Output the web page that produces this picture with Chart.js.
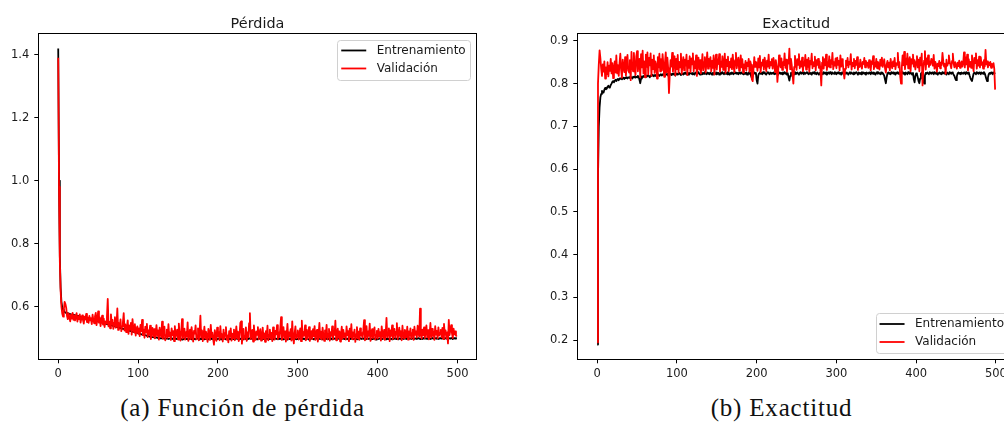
<!DOCTYPE html>
<html>
<head>
<meta charset="utf-8">
<script src="https://cdn.jsdelivr.net/npm/chart.js@4.4.1/dist/chart.umd.min.js"></script>
<style>
html,body{margin:0;padding:0;background:#fff;overflow:hidden;width:1004px;height:425px;}
.wrap{position:absolute;top:0;}
canvas{display:block;}
.cap{position:absolute;top:394px;font-family:'Liberation Serif',serif;font-size:25px;letter-spacing:0.8px;color:#111;white-space:nowrap;transform:translateX(-50%);}
</style>
</head>
<body>
<div class="wrap" style="left:0;width:500px;height:380px"><canvas id="c1" width="500" height="380"></canvas></div>
<div class="wrap" style="left:500px;width:540px;height:380px"><canvas id="c2" width="540" height="380"></canvas></div>
<div class="cap" style="left:242.5px">(a) Función de pérdida</div>
<div class="cap" style="left:781.5px">(b) Exactitud</div>
<script>
// ---- categories: epoch ----
const epochs = [
0,1,2,3,4,5,6,7,8,9,10,11,12,13,14,15,16,17,18,19,
20,21,22,23,24,25,26,27,28,29,30,31,32,33,34,35,36,37,38,39,
40,41,42,43,44,45,46,47,48,49,50,51,52,53,54,55,56,57,58,59,
60,61,62,63,64,65,66,67,68,69,70,71,72,73,74,75,76,77,78,79,
80,81,82,83,84,85,86,87,88,89,90,91,92,93,94,95,96,97,98,99,
100,101,102,103,104,105,106,107,108,109,110,111,112,113,114,115,116,117,118,119,
120,121,122,123,124,125,126,127,128,129,130,131,132,133,134,135,136,137,138,139,
140,141,142,143,144,145,146,147,148,149,150,151,152,153,154,155,156,157,158,159,
160,161,162,163,164,165,166,167,168,169,170,171,172,173,174,175,176,177,178,179,
180,181,182,183,184,185,186,187,188,189,190,191,192,193,194,195,196,197,198,199,
200,201,202,203,204,205,206,207,208,209,210,211,212,213,214,215,216,217,218,219,
220,221,222,223,224,225,226,227,228,229,230,231,232,233,234,235,236,237,238,239,
240,241,242,243,244,245,246,247,248,249,250,251,252,253,254,255,256,257,258,259,
260,261,262,263,264,265,266,267,268,269,270,271,272,273,274,275,276,277,278,279,
280,281,282,283,284,285,286,287,288,289,290,291,292,293,294,295,296,297,298,299,
300,301,302,303,304,305,306,307,308,309,310,311,312,313,314,315,316,317,318,319,
320,321,322,323,324,325,326,327,328,329,330,331,332,333,334,335,336,337,338,339,
340,341,342,343,344,345,346,347,348,349,350,351,352,353,354,355,356,357,358,359,
360,361,362,363,364,365,366,367,368,369,370,371,372,373,374,375,376,377,378,379,
380,381,382,383,384,385,386,387,388,389,390,391,392,393,394,395,396,397,398,399,
400,401,402,403,404,405,406,407,408,409,410,411,412,413,414,415,416,417,418,419,
420,421,422,423,424,425,426,427,428,429,430,431,432,433,434,435,436,437,438,439,
440,441,442,443,444,445,446,447,448,449,450,451,452,453,454,455,456,457,458,459,
460,461,462,463,464,465,466,467,468,469,470,471,472,473,474,475,476,477,478,479,
480,481,482,483,484,485,486,487,488,489,490,491,492,493,494,495,496,497,498,499
];

// ---- series: loss ----
const trainLoss = [
1.420,1.000,0.760,0.660,0.615,0.598,0.590,0.586,0.583,0.581,0.580,0.579,0.578,0.578,0.577,0.576,0.575,0.575,0.574,0.574,
0.573,0.572,0.572,0.571,0.570,0.570,0.569,0.568,0.568,0.567,0.566,0.566,0.565,0.564,0.564,0.563,0.562,0.562,0.561,0.560,
0.560,0.559,0.558,0.558,0.557,0.556,0.556,0.555,0.554,0.553,0.553,0.552,0.551,0.550,0.550,0.549,0.548,0.547,0.547,0.546,
0.545,0.544,0.544,0.543,0.542,0.541,0.541,0.540,0.539,0.538,0.538,0.537,0.536,0.535,0.535,0.534,0.533,0.532,0.532,0.531,
0.530,0.529,0.529,0.528,0.527,0.526,0.526,0.525,0.524,0.523,0.523,0.522,0.521,0.520,0.520,0.519,0.518,0.517,0.517,0.516,
0.515,0.514,0.514,0.513,0.512,0.511,0.511,0.510,0.509,0.509,0.508,0.507,0.507,0.506,0.505,0.505,0.504,0.504,0.503,0.503,
0.502,0.502,0.501,0.502,0.501,0.500,0.501,0.500,0.499,0.500,0.499,0.500,0.499,0.498,0.499,0.498,0.499,0.498,0.497,0.498,
0.498,0.497,0.499,0.498,0.496,0.498,0.497,0.499,0.497,0.498,0.496,0.497,0.499,0.498,0.497,0.495,0.498,0.497,0.499,0.498,
0.497,0.498,0.496,0.499,0.497,0.498,0.497,0.496,0.498,0.499,0.497,0.498,0.496,0.497,0.499,0.498,0.497,0.495,0.498,0.497,
0.499,0.497,0.498,0.496,0.498,0.497,0.499,0.498,0.496,0.497,0.498,0.499,0.497,0.498,0.496,0.498,0.499,0.497,0.494,0.498,
0.497,0.498,0.499,0.497,0.496,0.498,0.497,0.499,0.498,0.497,0.496,0.498,0.497,0.499,0.498,0.496,0.497,0.499,0.498,0.497,
0.498,0.496,0.497,0.499,0.498,0.497,0.495,0.498,0.497,0.499,0.498,0.497,0.496,0.498,0.499,0.497,0.498,0.496,0.497,0.499,
0.498,0.497,0.499,0.498,0.496,0.497,0.498,0.499,0.497,0.496,0.498,0.497,0.499,0.498,0.497,0.495,0.498,0.497,0.499,0.498,
0.497,0.499,0.498,0.496,0.498,0.497,0.499,0.497,0.498,0.496,0.497,0.499,0.498,0.497,0.498,0.496,0.499,0.497,0.498,0.497,
0.499,0.498,0.496,0.497,0.499,0.498,0.497,0.495,0.498,0.497,0.499,0.498,0.496,0.497,0.498,0.499,0.497,0.498,0.496,0.498,
0.497,0.499,0.498,0.497,0.496,0.498,0.499,0.497,0.498,0.496,0.497,0.499,0.498,0.497,0.495,0.498,0.497,0.499,0.498,0.497,
0.496,0.498,0.497,0.499,0.498,0.497,0.496,0.498,0.499,0.497,0.498,0.496,0.497,0.499,0.498,0.497,0.498,0.496,0.499,0.497,
0.498,0.497,0.499,0.496,0.498,0.497,0.499,0.498,0.497,0.495,0.498,0.499,0.497,0.498,0.496,0.497,0.499,0.498,0.497,0.498,
0.499,0.497,0.498,0.496,0.499,0.498,0.497,0.499,0.498,0.496,0.497,0.498,0.499,0.497,0.498,0.496,0.498,0.497,0.499,0.498,
0.497,0.498,0.499,0.497,0.498,0.496,0.497,0.499,0.498,0.497,0.499,0.498,0.496,0.498,0.497,0.499,0.498,0.497,0.495,0.498,
0.498,0.497,0.499,0.498,0.496,0.498,0.497,0.499,0.498,0.497,0.498,0.496,0.499,0.497,0.498,0.499,0.497,0.498,0.496,0.498,
0.497,0.499,0.498,0.497,0.499,0.498,0.496,0.498,0.499,0.497,0.498,0.499,0.497,0.498,0.500,0.498,0.497,0.499,0.498,0.497,
0.499,0.498,0.497,0.499,0.498,0.500,0.497,0.498,0.499,0.497,0.498,0.500,0.499,0.497,0.498,0.499,0.497,0.500,0.498,0.499,
0.498,0.499,0.497,0.500,0.498,0.499,0.497,0.498,0.500,0.499,0.498,0.497,0.499,0.500,0.498,0.499,0.497,0.498,0.500,0.499,
0.498,0.500,0.499,0.497,0.499,0.500,0.498,0.499,0.497,0.500,0.499,0.498,0.500,0.499,0.497,0.499,0.500,0.498,0.500,0.501
];
const valLoss = [
1.390,0.980,0.745,0.650,0.600,0.578,0.568,0.590,0.615,0.608,0.596,0.570,0.560,0.578,0.566,0.553,0.574,0.562,0.580,0.558,
0.571,0.556,0.566,0.579,0.552,0.569,0.560,0.575,0.549,0.563,0.572,0.557,0.546,0.568,0.559,0.577,0.551,0.565,0.548,0.570,
0.556,0.563,0.544,0.574,0.558,0.547,0.569,0.580,0.541,0.560,0.585,0.549,0.566,0.538,0.557,0.571,0.543,0.562,0.535,0.553,
0.546,0.568,0.624,0.537,0.552,0.531,0.575,0.544,0.558,0.529,0.549,0.566,0.533,0.541,0.594,0.526,0.547,0.537,0.559,0.522,
0.538,0.551,0.579,0.524,0.543,0.519,0.535,0.556,0.513,0.540,0.527,0.548,0.511,0.560,0.532,0.518,0.544,0.508,0.529,0.537,
0.514,0.531,0.506,0.542,0.522,0.558,0.509,0.527,0.501,0.536,0.518,0.545,0.503,0.524,0.511,0.539,0.497,0.520,0.532,0.505,
0.528,0.499,0.515,0.541,0.507,0.524,0.495,0.533,0.512,0.503,0.552,0.498,0.519,0.536,0.493,0.510,0.527,0.501,0.544,0.506,
0.517,0.494,0.531,0.509,0.522,0.490,0.538,0.503,0.515,0.527,0.496,0.546,0.508,0.492,0.521,0.560,0.499,0.513,0.530,0.495,
0.519,0.505,0.550,0.491,0.512,0.527,0.497,0.535,0.508,0.489,0.523,0.514,0.540,0.496,0.509,0.531,0.493,0.518,0.571,0.502,
0.524,0.490,0.511,0.536,0.498,0.520,0.507,0.488,0.529,0.515,0.494,0.542,0.503,0.517,0.496,0.479,0.525,0.510,0.491,0.533,
0.506,0.519,0.493,0.538,0.502,0.512,0.489,0.527,0.498,0.516,0.535,0.495,0.508,0.486,0.522,0.504,0.531,0.492,0.514,0.500,
0.527,0.493,0.511,0.537,0.499,0.520,0.490,0.509,0.548,0.553,0.482,0.515,0.529,0.496,0.507,0.534,0.491,0.518,0.503,0.547,
0.579,0.497,0.512,0.526,0.489,0.540,0.505,0.494,0.521,0.510,0.535,0.496,0.517,0.528,0.492,0.506,0.533,0.499,0.515,0.488,
0.522,0.504,0.539,0.493,0.511,0.527,0.498,0.516,0.490,0.534,0.508,0.495,0.523,0.512,0.541,0.497,0.519,0.503,0.530,0.566,
0.494,0.514,0.535,0.500,0.521,0.489,0.509,0.545,0.496,0.518,0.506,0.528,0.492,0.553,0.503,0.483,0.516,0.537,0.499,0.511,
0.524,0.495,0.513,0.531,0.490,0.555,0.502,0.519,0.508,0.540,0.493,0.527,0.498,0.515,0.535,0.491,0.510,0.522,0.497,0.528,
0.506,0.538,0.494,0.517,0.526,0.489,0.512,0.548,0.500,0.520,0.495,0.533,0.509,0.491,0.524,0.503,0.542,0.497,0.514,0.529,
0.492,0.519,0.507,0.537,0.496,0.524,0.510,0.555,0.493,0.516,0.530,0.501,0.521,0.489,0.511,0.536,0.498,0.526,0.504,0.515,
0.495,0.537,0.509,0.522,0.490,0.530,0.503,0.544,0.497,0.518,0.506,0.527,0.488,0.512,0.535,0.499,0.520,0.494,0.531,0.508,
0.516,0.501,0.525,0.557,0.493,0.512,0.538,0.497,0.521,0.507,0.546,0.491,0.515,0.528,0.500,0.519,0.534,0.495,0.511,0.523,
0.498,0.529,0.506,0.519,0.492,0.537,0.510,0.500,0.526,0.494,0.513,0.564,0.502,0.518,0.531,0.490,0.524,0.507,0.540,0.497,
0.515,0.529,0.501,0.520,0.547,0.496,0.512,0.533,0.505,0.522,0.493,0.539,0.510,0.499,0.526,0.517,0.503,0.536,0.495,0.521,
0.508,0.531,0.498,0.516,0.527,0.494,0.536,0.510,0.521,0.502,0.539,0.515,0.505,0.593,0.512,0.498,0.527,0.509,0.534,0.500,
0.518,0.540,0.503,0.525,0.496,0.512,0.548,0.501,0.529,0.507,0.520,0.494,0.538,0.511,0.523,0.499,0.534,0.508,0.517,0.526,
0.503,0.532,0.497,0.545,0.511,0.524,0.499,0.518,0.483,0.558,0.509,0.527,0.541,0.515,0.500,0.530,0.512,0.521,0.508,0.505
];

// ---- series: accuracy ----
const trainAcc = [
0.190,0.580,0.700,0.745,0.768,0.776,0.783,0.781,0.779,0.786,0.790,0.787,0.788,0.793,0.795,0.791,0.792,0.797,0.800,0.804,
0.806,0.803,0.807,0.809,0.806,0.810,0.811,0.808,0.812,0.811,0.813,0.810,0.812,0.814,0.811,0.814,0.813,0.815,0.812,0.814,
0.815,0.813,0.816,0.814,0.812,0.816,0.815,0.817,0.814,0.816,0.815,0.818,0.816,0.809,0.801,0.812,0.817,0.815,0.818,0.816,
0.817,0.819,0.816,0.818,0.820,0.817,0.815,0.819,0.818,0.821,0.819,0.817,0.820,0.818,0.821,0.819,0.822,0.820,0.818,0.821,
0.822,0.819,0.821,0.823,0.820,0.818,0.822,0.821,0.823,0.819,0.821,0.824,0.822,0.820,0.823,0.821,0.824,0.822,0.819,0.823,
0.824,0.821,0.823,0.825,0.822,0.820,0.824,0.823,0.821,0.825,0.823,0.826,0.822,0.824,0.821,0.825,0.823,0.826,0.824,0.822,
0.825,0.823,0.821,0.826,0.824,0.822,0.825,0.827,0.823,0.821,0.824,0.826,0.822,0.825,0.823,0.827,0.824,0.822,0.826,0.823,
0.825,0.822,0.826,0.824,0.821,0.825,0.823,0.827,0.824,0.822,0.826,0.823,0.825,0.821,0.824,0.826,0.823,0.827,0.824,0.822,
0.826,0.823,0.825,0.822,0.827,0.824,0.821,0.825,0.823,0.826,0.824,0.822,0.827,0.824,0.826,0.823,0.825,0.822,0.826,0.824,
0.823,0.826,0.824,0.822,0.827,0.825,0.823,0.826,0.821,0.824,0.826,0.823,0.825,0.818,0.812,0.820,0.824,0.826,0.823,0.825,
0.808,0.800,0.819,0.824,0.826,0.823,0.825,0.822,0.827,0.824,0.826,0.823,0.821,0.825,0.827,0.824,0.822,0.826,0.823,0.825,
0.824,0.826,0.822,0.825,0.823,0.827,0.824,0.821,0.825,0.826,0.823,0.825,0.822,0.826,0.824,0.827,0.823,0.825,0.821,0.824,
0.815,0.807,0.818,0.825,0.823,0.826,0.824,0.822,0.827,0.825,0.823,0.826,0.824,0.821,0.825,0.827,0.823,0.826,0.824,0.822,
0.826,0.823,0.825,0.827,0.824,0.822,0.826,0.823,0.825,0.821,0.826,0.824,0.827,0.823,0.825,0.822,0.826,0.824,0.821,0.825,
0.823,0.826,0.824,0.822,0.827,0.825,0.823,0.826,0.821,0.824,0.826,0.823,0.827,0.825,0.822,0.826,0.824,0.823,0.827,0.825,
0.822,0.826,0.824,0.827,0.823,0.825,0.821,0.826,0.824,0.822,0.827,0.825,0.823,0.826,0.824,0.821,0.825,0.827,0.823,0.826,
0.824,0.822,0.826,0.823,0.825,0.827,0.824,0.821,0.826,0.823,0.825,0.822,0.827,0.824,0.826,0.823,0.825,0.821,0.826,0.824,
0.823,0.826,0.824,0.822,0.827,0.825,0.823,0.826,0.824,0.821,0.825,0.827,0.823,0.826,0.824,0.822,0.826,0.823,0.825,0.822,
0.818,0.809,0.801,0.815,0.824,0.826,0.823,0.825,0.822,0.827,0.824,0.826,0.823,0.825,0.821,0.826,0.824,0.827,0.823,0.825,
0.822,0.826,0.824,0.827,0.823,0.825,0.821,0.826,0.824,0.822,0.827,0.825,0.823,0.826,0.824,0.821,0.825,0.811,0.803,0.818,
0.824,0.822,0.815,0.806,0.801,0.812,0.823,0.826,0.824,0.808,0.800,0.819,0.825,0.823,0.826,0.824,0.822,0.827,0.825,0.823,
0.826,0.824,0.822,0.827,0.825,0.823,0.826,0.821,0.824,0.826,0.823,0.825,0.822,0.827,0.824,0.826,0.823,0.825,0.821,0.826,
0.824,0.822,0.827,0.825,0.823,0.826,0.824,0.821,0.818,0.812,0.808,0.817,0.824,0.826,0.823,0.825,0.822,0.826,0.824,0.823,
0.826,0.824,0.822,0.827,0.825,0.823,0.826,0.819,0.813,0.809,0.806,0.815,0.823,0.826,0.824,0.822,0.827,0.825,0.823,0.826,
0.824,0.822,0.826,0.825,0.823,0.827,0.824,0.818,0.811,0.806,0.814,0.822,0.825,0.823,0.826,0.824,0.822,0.826,0.825,0.823
];
const valAcc = [
0.195,0.800,0.845,0.878,0.860,0.835,0.818,0.845,0.828,0.852,0.812,0.838,0.822,0.850,0.817,0.842,0.830,0.858,0.824,0.848,
0.813,0.836,0.852,0.826,0.866,0.824,0.843,0.818,0.848,0.870,0.832,0.814,0.856,0.840,0.827,0.862,0.819,0.845,0.867,0.831,
0.826,0.855,0.808,0.874,0.841,0.829,0.872,0.835,0.820,0.864,0.876,0.829,0.847,0.858,0.815,0.869,0.838,0.877,0.824,0.852,
0.815,0.868,0.839,0.873,0.822,0.860,0.843,0.871,0.818,0.856,0.834,0.866,0.825,0.852,0.845,0.812,0.862,0.838,0.870,0.829,
0.857,0.831,0.869,0.844,0.816,0.850,0.873,0.827,0.861,0.836,0.778,0.821,0.855,0.840,0.872,0.828,0.849,0.864,0.819,0.858,
0.834,0.867,0.826,0.851,0.838,0.870,0.823,0.846,0.862,0.831,0.856,0.842,0.868,0.820,0.853,0.837,0.864,0.827,0.859,0.845,
0.871,0.829,0.852,0.836,0.866,0.818,0.848,0.861,0.833,0.855,0.824,0.843,0.869,0.831,0.851,0.862,0.826,0.848,0.873,0.835,
0.858,0.840,0.862,0.829,0.853,0.837,0.866,0.821,0.850,0.868,0.833,0.857,0.846,0.869,0.828,0.852,0.839,0.864,0.832,0.848,
0.870,0.825,0.856,0.841,0.863,0.829,0.851,0.838,0.859,0.834,0.868,0.843,0.827,0.855,0.872,0.836,0.850,0.861,0.830,0.847,
0.866,0.838,0.857,0.826,0.845,0.836,0.853,0.831,0.849,0.841,0.858,0.828,0.852,0.844,0.810,0.806,0.833,0.862,0.839,0.851,
0.846,0.830,0.859,0.838,0.865,0.827,0.849,0.842,0.856,0.833,0.861,0.845,0.829,0.854,0.840,0.868,0.836,0.851,0.843,0.857,
0.835,0.860,0.848,0.827,0.855,0.841,0.804,0.829,0.866,0.846,0.838,0.859,0.832,0.850,0.843,0.871,0.837,0.856,0.828,0.853,
0.847,0.882,0.834,0.858,0.843,0.820,0.800,0.839,0.865,0.848,0.832,0.857,0.844,0.869,0.836,0.852,0.840,0.861,0.829,0.851,
0.842,0.867,0.833,0.856,0.839,0.860,0.828,0.853,0.845,0.870,0.836,0.850,0.841,0.863,0.831,0.855,0.844,0.858,0.837,0.852,
0.830,0.796,0.849,0.862,0.835,0.857,0.843,0.868,0.832,0.851,0.840,0.864,0.838,0.855,0.846,0.872,0.834,0.850,0.842,0.859,
0.836,0.861,0.844,0.853,0.831,0.866,0.840,0.857,0.848,0.826,0.812,0.835,0.854,0.843,0.860,0.838,0.851,0.845,0.869,0.833,
0.849,0.841,0.858,0.836,0.853,0.844,0.862,0.832,0.848,0.839,0.856,0.843,0.835,0.851,0.846,0.860,0.838,0.853,0.842,0.849,
0.837,0.855,0.843,0.831,0.852,0.846,0.864,0.834,0.849,0.840,0.858,0.836,0.851,0.845,0.833,0.856,0.842,0.861,0.839,0.848,
0.857,0.835,0.826,0.845,0.853,0.838,0.849,0.831,0.858,0.843,0.836,0.852,0.841,0.860,0.834,0.848,0.844,0.872,0.838,0.850,
0.817,0.800,0.838,0.866,0.843,0.874,0.834,0.859,0.845,0.870,0.836,0.852,0.862,0.829,0.857,0.847,0.868,0.840,0.855,0.833,
0.851,0.864,0.838,0.856,0.829,0.861,0.843,0.870,0.796,0.837,0.854,0.876,0.833,0.859,0.846,0.866,0.839,0.852,0.844,0.858,
0.856,0.842,0.867,0.835,0.851,0.844,0.828,0.847,0.841,0.853,0.836,0.849,0.843,0.872,0.852,0.840,0.846,0.823,0.856,0.842,
0.848,0.866,0.851,0.844,0.836,0.853,0.870,0.847,0.838,0.850,0.843,0.835,0.849,0.841,0.854,0.837,0.846,0.852,0.840,0.848,
0.873,0.838,0.862,0.845,0.868,0.831,0.857,0.840,0.851,0.837,0.866,0.844,0.829,0.860,0.848,0.871,0.835,0.855,0.842,0.863,
0.838,0.862,0.844,0.850,0.835,0.855,0.840,0.879,0.845,0.852,0.838,0.849,0.843,0.851,0.837,0.846,0.840,0.848,0.834,0.786
];

// ---- tick labels / text ----
const xTicks = [0, 100, 200, 300, 400, 500];
const lossTicks = [0.6, 0.8, 1.0, 1.2, 1.4];
const accTicks = [0.2, 0.3, 0.4, 0.5, 0.6, 0.7, 0.8, 0.9];
const seriesNames = ['Entrenamiento', 'Validación'];
const seriesColors = ['#000000', '#ff0000'];
const chartTitles = ['Pérdida', 'Exactitud'];

Chart.defaults.font.family = "'DejaVu Sans', sans-serif";

const framePlugin = {
  id: 'mplFrame',
  afterDatasetsDraw(chart) {
    const ctx = chart.ctx, a = chart.chartArea;
    ctx.save();
    ctx.strokeStyle = '#000';
    ctx.lineWidth = 1;
    const l = Math.floor(a.left) + 0.5, t = Math.floor(a.top) + 0.5;
    const r = Math.floor(a.right) + 0.5, b = Math.floor(a.bottom) + 0.5;
    ctx.strokeRect(l, t, r - l, b - t);
    ctx.restore();
  }
};

const legendPlugin = {
  id: 'mplLegend',
  afterDraw(chart, args, opts) {
    const ctx = chart.ctx, a = chart.chartArea;
    ctx.save();
    ctx.font = "12px 'DejaVu Sans'";
    const tw = Math.max(...seriesNames.map(s => ctx.measureText(s).width));
    const w = 39.5 + tw + 5;
    const h = 40;
    const right = a.right - 6;
    const left = right - w;
    const top = opts.loc === 'upper' ? a.top + 6 : a.bottom - 6 - h;
    ctx.beginPath();
    ctx.roundRect(Math.round(left) + 0.5, Math.round(top) + 0.5, Math.round(w), h, 3);
    ctx.fillStyle = 'rgba(255,255,255,0.85)';
    ctx.fill();
    ctx.strokeStyle = '#d0d0d0';
    ctx.lineWidth = 1;
    ctx.stroke();
    seriesNames.forEach((name, i) => {
      const cy = top + 10.7 + i * 18;
      ctx.beginPath();
      ctx.moveTo(left + 4, cy);
      ctx.lineTo(left + 29, cy);
      ctx.strokeStyle = seriesColors[i];
      ctx.lineWidth = 1.8;
      ctx.stroke();
      ctx.fillStyle = '#1a1a1a';
      ctx.textBaseline = 'middle';
      ctx.textAlign = 'left';
      ctx.fillText(name, left + 39.5, cy);
    });
    ctx.restore();
  }
};

function makeChart(id, title, train, val, yTicks, yMin, yMax, legendLoc, padLeft, padRight) {
  const pts = arr => epochs.map((e, i) => ({ x: e, y: arr[i] }));
  return new Chart(document.getElementById(id), {
    type: 'line',
    data: {
      datasets: [
        { label: seriesNames[1], data: pts(val), borderColor: seriesColors[1], borderWidth: 1.8, order: 0 },
        { label: seriesNames[0], data: pts(train), borderColor: seriesColors[0], borderWidth: 1.8, order: 1 }
      ]
    },
    options: {
      responsive: false,
      animation: false,
      devicePixelRatio: 1,
      parsing: false,
      normalized: true,
      elements: {
        point: { radius: 0, hoverRadius: 0 },
        line: { tension: 0, borderJoinStyle: 'round', borderCapStyle: 'butt', fill: false }
      },
      layout: { padding: { left: padLeft, right: padRight, top: 0, bottom: 0 } },
      plugins: {
        legend: { display: false },
        tooltip: { enabled: false },
        title: {
          display: true, text: title, fullSize: false, color: '#1a1a1a',
          font: { size: 14.4, weight: 'normal' },
          padding: { top: 15.5, bottom: 1 }
        },
        mplLegend: { loc: legendLoc }
      },
      scales: {
        x: {
          type: 'linear', min: -24.95, max: 523.95,
          afterFit: s => { s.height = 20.7; },
          afterBuildTicks: s => { s.ticks = xTicks.map(v => ({ value: v })); },
          ticks: { color: '#1a1a1a', font: { size: 11.5 }, padding: 4, maxRotation: 0, autoSkip: false, callback: v => String(v) },
          grid: { display: true, drawOnChartArea: false, drawTicks: true, tickLength: 4, color: '#000', lineWidth: 1 },
          border: { display: false }
        },
        y: {
          type: 'linear', min: yMin, max: yMax,
          afterFit: s => { s.width = 38.3; },
          afterBuildTicks: s => { s.ticks = yTicks.map(v => ({ value: v })); },
          ticks: { color: '#1a1a1a', font: { size: 11.5 }, padding: 5, autoSkip: false, callback: v => v.toFixed(1) },
          grid: { display: true, drawOnChartArea: false, drawTicks: true, tickLength: 4, color: '#000', lineWidth: 1 },
          border: { display: false }
        }
      }
    },
    plugins: [framePlugin, legendPlugin]
  });
}

makeChart('c1', chartTitles[0], trainLoss, valLoss, lossTicks, 0.4325, 1.4665, 'upper', 0, 23.3);
makeChart('c2', chartTitles[1], trainAcc, valAcc, accTicks, 0.1554, 0.9166, 'lower', 39, 25);
</script>
</body>
</html>
